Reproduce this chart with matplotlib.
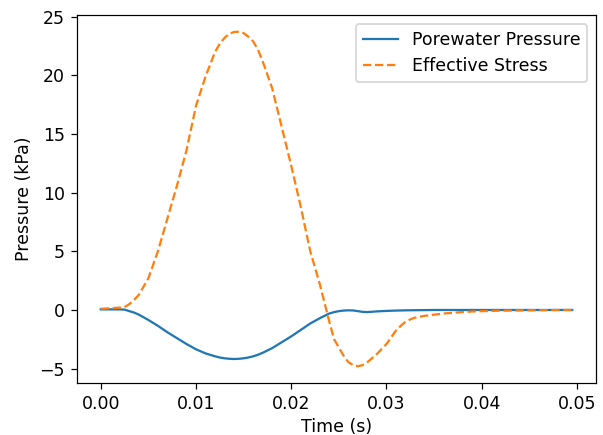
import numpy as np
import matplotlib
matplotlib.use("Agg")
import matplotlib.pyplot as plt

# time in seconds (extra half-ms samples where the curves bend sharply)
time = [0.000, 0.001, 0.002, 0.0025, 0.003, 0.0035, 0.004, 0.005, 0.006, 0.007,
        0.008, 0.009, 0.010, 0.011, 0.012, 0.0125, 0.013, 0.0135, 0.014, 0.0145,
        0.015, 0.0155, 0.016, 0.0165, 0.017, 0.018, 0.019, 0.020, 0.021, 0.022,
        0.023, 0.024, 0.0245, 0.025, 0.0255, 0.026, 0.0265, 0.027, 0.0275, 0.028,
        0.0285, 0.029, 0.030, 0.031, 0.0315, 0.032, 0.0325, 0.033, 0.034, 0.035,
        0.036, 0.037, 0.038, 0.039, 0.040, 0.041, 0.042, 0.043, 0.044, 0.045,
        0.046, 0.047, 0.048, 0.049, 0.0495]

porewater = [0.05, 0.05, 0.05, 0.03, -0.1, -0.22, -0.4, -0.85, -1.35, -1.9,
             -2.4, -2.9, -3.35, -3.7, -3.95, -4.05, -4.12, -4.16, -4.18, -4.16,
             -4.12, -4.05, -3.95, -3.82, -3.65, -3.25, -2.75, -2.25, -1.7, -1.15,
             -0.7, -0.3, -0.18, -0.1, -0.05, -0.03, -0.04, -0.1, -0.16, -0.18,
             -0.15, -0.12, -0.08, -0.05, -0.04, -0.03, -0.025, -0.02, -0.01, 0.0,
             0.0, 0.0, 0.0, 0.0, 0.0, 0.0, 0.0, 0.0, 0.0, 0.0,
             0.0, 0.0, 0.0, 0.0, 0.0]

effective = [0.1, 0.15, 0.2, 0.25, 0.5, 0.85, 1.3, 2.7, 5.0, 7.8,
             10.6, 13.6, 17.4, 19.9, 22.0, 22.7, 23.2, 23.55, 23.7, 23.72,
             23.6, 23.3, 22.9, 22.2, 21.2, 18.9, 15.6, 12.3, 8.8, 5.0,
             2.2, -1.0, -2.5, -3.2, -3.9, -4.45, -4.7, -4.8, -4.7, -4.45,
             -4.1, -3.75, -2.9, -1.75, -1.35, -1.0, -0.8, -0.65, -0.5, -0.4,
             -0.3, -0.24, -0.18, -0.13, -0.1, -0.08, -0.06, -0.05, -0.04, -0.03,
             -0.02, -0.01, 0.0, 0.0, 0.0]

# reference looks like a default figure rendered at ~125 dpi, with thinner lines
plt.rcParams['lines.linewidth'] = 1.3
plt.rcParams['axes.linewidth'] = 0.7
plt.rcParams['xtick.major.width'] = 0.7
plt.rcParams['ytick.major.width'] = 0.7

fig = plt.figure(figsize=(603 / 125, 435 / 125), dpi=125)
ax = fig.add_axes([0.128, 0.1195, 0.86, 0.846])
ax.plot(time, porewater, '-', label='Porewater Pressure')
ax.plot(time, effective, '--', label='Effective Stress')
ax.set_xlabel('Time (s)', labelpad=3)
ax.set_ylabel('Pressure (kPa)')
ax.legend(loc='upper right')

fig.savefig('out.png', dpi=125)
